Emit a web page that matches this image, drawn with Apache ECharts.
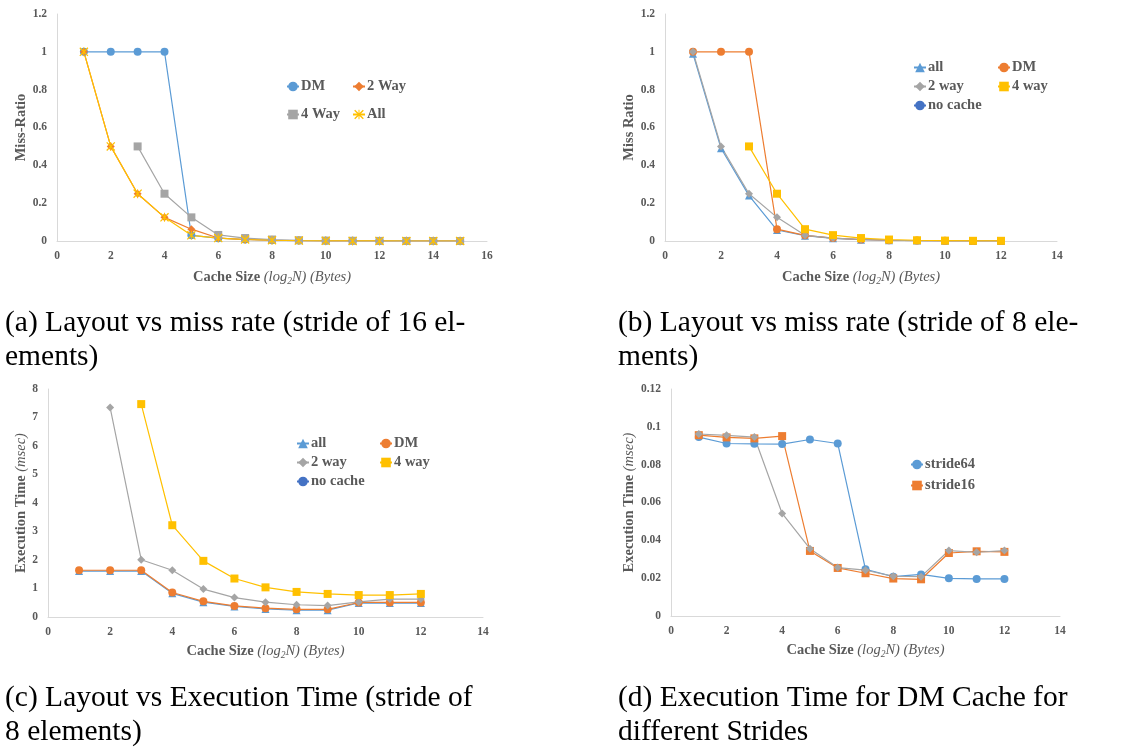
<!doctype html>
<html>
<head>
<meta charset="utf-8">
<script src="https://cdn.jsdelivr.net/npm/echarts@6/dist/echarts.min.js"></script>
<style>
	html, body { margin: 0; padding: 0; background: #fff; }
	#main { width: 1128px; height: 747px; }
</style>
</head>
<body>
<div id="main"></div>
<script>
	// (a) stride of 16 elements - miss ratio
	var xA = [1, 2, 3, 4, 5, 6, 7, 8, 9, 10, 11, 12, 13, 14, 15];
	var aDM = [1, 1, 1, 1, 0.03, 0.015, 0.008, 0.004, 0.002, 0.001, 0.001, 0, 0, 0, 0];
	var a2Way = [1, 0.5, 0.25, 0.125, 0.0625, 0.0156, 0.0078, 0.0039, 0.002, 0.001, 0.0005, 0.0002, 0.0001, 0.0001, 0];
	var a4Way = [null, null, 0.5, 0.25, 0.125, 0.032, 0.0156, 0.0078, 0.0039, 0.002, 0.001, 0.0005, 0.0002, 0.0001, 0.0001];
	var aAll = [1, 0.5, 0.25, 0.125, 0.03, 0.0156, 0.0078, 0.0039, 0.002, 0.001, 0.0005, 0.0002, 0.0001, 0.0001, 0];

	// (b) stride of 8 elements - miss ratio
	var xB = [1, 2, 3, 4, 5, 6, 7, 8, 9, 10, 11, 12];
	var bAll = [0.99, 0.49, 0.24, 0.058, 0.028, 0.014, 0.007, 0.004, 0.002, 0.001, 0.0005, 0.0002];
	var bDM = [1, 1, 1, 0.0625, 0.03, 0.0156, 0.0078, 0.0039, 0.002, 0.001, 0.0005, 0.0002];
	var b2way = [1, 0.5, 0.25, 0.125, 0.03, 0.0156, 0.0078, 0.0039, 0.002, 0.001, 0.0005, 0.0002];
	var b4way = [null, null, 0.5, 0.25, 0.0625, 0.031, 0.0156, 0.0078, 0.0039, 0.002, 0.001, 0.001];
	var bNoCache = [];

	// (c) stride of 8 elements - execution time (msec)
	var xC = [1, 2, 3, 4, 5, 6, 7, 8, 9, 10, 11, 12];
	var cAll = [1.61, 1.61, 1.61, 0.83, 0.52, 0.37, 0.28, 0.24, 0.24, 0.49, 0.49, 0.49];
	var cDM = [1.64, 1.64, 1.64, 0.86, 0.55, 0.39, 0.31, 0.27, 0.27, 0.51, 0.51, 0.51];
	var c2way = [null, 7.35, 2.01, 1.64, 0.98, 0.68, 0.52, 0.43, 0.40, 0.53, 0.63, 0.63];
	var c4way = [null, null, 7.47, 3.22, 1.97, 1.35, 1.04, 0.88, 0.81, 0.77, 0.77, 0.81];
	var cNoCache = [];

	// (d) DM cache, different strides - execution time (msec)
	var xD = [1, 2, 3, 4, 5, 6, 7, 8, 9, 10, 11, 12];
	var dStride64 = [0.0946, 0.0912, 0.091, 0.0909, 0.0933, 0.0912, 0.0247, 0.0208, 0.022, 0.0199, 0.0196, 0.0196];
	var dStride16 = [0.0956, 0.0944, 0.0939, 0.0951, 0.0344, 0.0254, 0.0226, 0.0198, 0.0194, 0.0333, 0.0342, 0.0339];
	var dGray = [0.0962, 0.0955, 0.0946, 0.0542, 0.0356, 0.0256, 0.0242, 0.021, 0.0208, 0.0346, 0.0337, 0.0346];

	var captions = [
		'(a) Layout vs miss rate (stride of 16 el-\nements)',
		'(b) Layout vs miss rate (stride of 8 ele-\nments)',
		'(c) Layout vs Execution Time (stride of\n8 elements)',
		'(d) Execution Time for DM Cache for\ndifferent Strides'
	];

	var BLUE = '#5B9BD5', ORANGE = '#ED7D31', GRAY = '#A5A5A5', GOLD = '#FFC000', DBLUE = '#4472C4';
	var TXT = '#595959';
	var SERIF = '"Liberation Serif", "Times New Roman", serif';
	var STAR = 'path://M0,1L1,0L10,9L9,10Z M9,0L10,1L1,10L0,9Z M4.5,0L5.5,0L5.5,10L4.5,10Z';

	function pairs(xs, ys) {
		var out = [];
		for (var i = 0; i < xs.length; i++) {
			if (ys[i] !== null && ys[i] !== undefined) out.push([xs[i], ys[i]]);
		}
		return out;
	}

	function line(name, xs, ys, color, symbol, size, gi) {
		return {
			name: name,
			type: 'line',
			xAxisIndex: gi,
			yAxisIndex: gi,
			data: pairs(xs, ys),
			symbol: symbol,
			symbolSize: size,
			showSymbol: true,
			lineStyle: { color: color, width: 1.2 },
			itemStyle: { color: color },
			emphasis: { disabled: true }
		};
	}

	var nameRich = {
		b: { fontFamily: SERIF, fontWeight: 'bold', fontSize: 14.5, color: TXT },
		i: { fontFamily: SERIF, fontStyle: 'italic', fontWeight: 'normal', fontSize: 14.5, color: TXT },
		s: { fontFamily: SERIF, fontStyle: 'italic', fontWeight: 'normal', fontSize: 9.5, color: TXT, padding: [8, 0, 0, 0] }
	};

	function xAx(gi, max, gap) {
		return {
			gridIndex: gi,
			type: 'value',
			min: 0,
			max: max,
			interval: 2,
			axisLine: { show: true, onZero: false, lineStyle: { color: '#D9D9D9', width: 1 } },
			axisTick: { show: false },
			splitLine: { show: false },
			axisLabel: { color: TXT, fontFamily: SERIF, fontWeight: 'bold', fontSize: 11.5, margin: 9 },
			name: '{b|Cache Size }{i|(log}{s|2}{i|N) (Bytes)}',
			nameLocation: 'middle',
			nameGap: gap,
			nameTextStyle: { rich: nameRich }
		};
	}

	function yAx(gi, max, interval, name, gap) {
		return {
			gridIndex: gi,
			type: 'value',
			min: 0,
			max: max,
			interval: interval,
			axisLine: { show: true, onZero: false, lineStyle: { color: '#D9D9D9', width: 1 } },
			axisTick: { show: false },
			splitLine: { show: false },
			axisLabel: { color: TXT, fontFamily: SERIF, fontWeight: 'bold', fontSize: 11.5, margin: 10 },
			name: name,
			nameLocation: 'middle',
			nameRotate: 90,
			nameGap: gap,
			nameTextStyle: { rich: nameRich }
		};
	}

	function leg(names, left, top, gap) {
		return {
			data: names,
			orient: 'vertical',
			left: left,
			top: top,
			padding: 0,
			itemGap: gap,
			itemWidth: 12,
			itemHeight: 12,
			selectedMode: false,
			textStyle: { color: TXT, fontFamily: SERIF, fontWeight: 'bold', fontSize: 14.5, lineHeight: 14, padding: [0, 0, 0, -3] }
		};
	}

	function cap(text, left, top) {
		return {
			text: text,
			left: left,
			top: top,
			padding: 0,
			textStyle: { color: '#000', fontFamily: SERIF, fontWeight: 'normal', fontSize: 29.5, lineHeight: 34 }
		};
	}

	var myChart = echarts.init(document.getElementById('main'));

	var option = {
		animation: false,
		backgroundColor: '#fff',
		title: [
			cap(captions[0], 5, 306),
			cap(captions[1], 618, 306),
			cap(captions[2], 5, 681),
			cap(captions[3], 618, 681)
		],
		grid: [
			{ left: 57, top: 14, width: 430, height: 227 },
			{ left: 665, top: 14, width: 392, height: 227 },
			{ left: 48, top: 389, width: 435, height: 228 },
			{ left: 671, top: 389, width: 389, height: 227 }
		],
		xAxis: [xAx(0, 16, 27), xAx(1, 14, 27), xAx(2, 14, 25), xAx(3, 14, 25)],
		yAxis: [
			yAx(0, 1.2, 0.2, '{b|Miss-Ratio}', 25),
			yAx(1, 1.2, 0.2, '{b|Miss Ratio}', 19),
			yAx(2, 8, 1, '{b|Execution Time }{i|(msec)}', 16),
			yAx(3, 0.12, 0.02, '{b|Execution Time }{i|(msec)}', 25)
		],
		legend: [
			leg(['DM', '4 Way'], 286, 79, 13),
			leg(['2 Way', 'All'], 352, 79, 13),
			leg(['all', '2 way', 'no cache'], 913, 60, 4),
			leg(['DM ', '4 way'], 997, 60, 4),
			leg(['all  ', '2 way  ', 'no cache  '], 296, 436, 4),
			leg(['DM  ', '4 way  '], 379, 436, 4),
			leg(['stride64', 'stride16'], 910, 457, 6)
		],
		series: [
			line('DM', xA, aDM, BLUE, 'circle', 8, 0),
			line('2 Way', xA, a2Way, ORANGE, 'diamond', 8, 0),
			line('4 Way', xA, a4Way, GRAY, 'rect', 8, 0),
			line('All', xA, aAll, GOLD, STAR, 9, 0),

			line('all', xB, bAll, BLUE, 'triangle', 8, 1),
			line('DM ', xB, bDM, ORANGE, 'circle', 8, 1),
			line('2 way', xB, b2way, GRAY, 'diamond', 8, 1),
			line('4 way', xB, b4way, GOLD, 'rect', 8, 1),
			line('no cache', xB, bNoCache, DBLUE, 'circle', 8, 1),

			line('all  ', xC, cAll, BLUE, 'triangle', 8, 2),
			line('DM  ', xC, cDM, ORANGE, 'circle', 8, 2),
			line('2 way  ', xC, c2way, GRAY, 'diamond', 8, 2),
			line('4 way  ', xC, c4way, GOLD, 'rect', 8, 2),
			line('no cache  ', xC, cNoCache, DBLUE, 'circle', 8, 2),

			line('stride64', xD, dStride64, BLUE, 'circle', 8, 3),
			line('stride16', xD, dStride16, ORANGE, 'rect', 8, 3),
			line('stride8', xD, dGray, GRAY, 'diamond', 8, 3)
		]
	};

	myChart.setOption(option);

	window.addEventListener('resize', function () {
		myChart.resize();
	});
</script>
</body>
</html>
